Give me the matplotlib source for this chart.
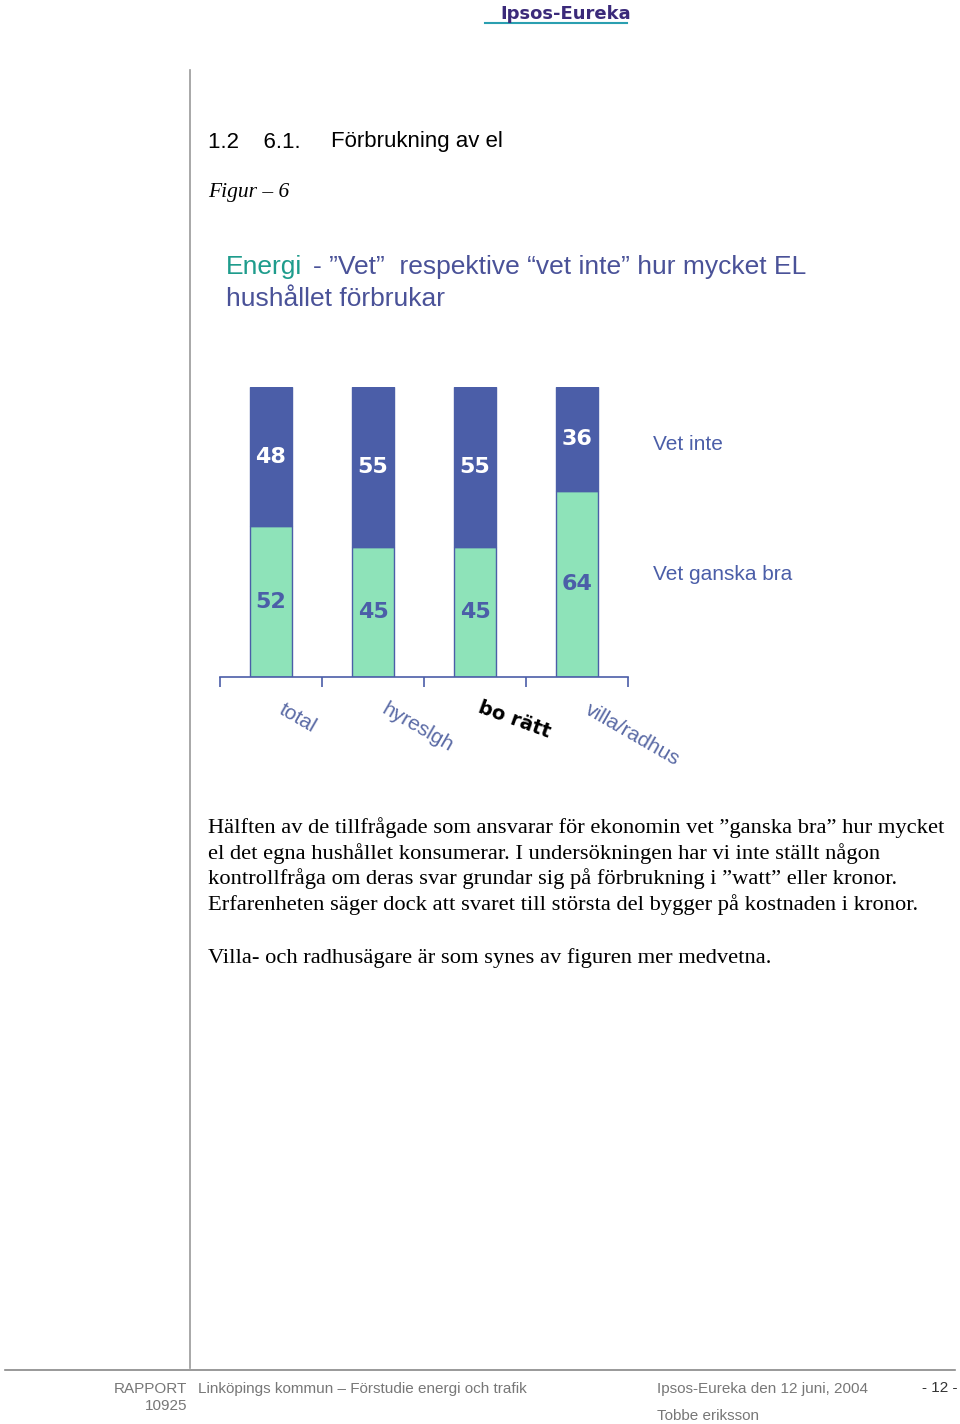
import matplotlib.pyplot as plt
import numpy as np

categories = ["total", "hyreslgh", "bo rätt", "villa/radhus"]
vet_ganska_bra = [52, 45, 45, 64]
vet_inte = [48, 55, 55, 36]
series_names = ["Vet ganska bra", "Vet inte"]

BLUE = "#4b5ea8"
GREEN = "#8ee3b9"
LABEL = "#5a6aa5"

fig = plt.figure(figsize=(9.6, 14.24), dpi=100)
W, H = 960, 1424


def fx(px):
    return px / W


def fy(py):
    return 1 - py / H


# page decoration
fig.add_artist(plt.Line2D([fx(190), fx(190)], [fy(70), fy(1368)], color="#999999", lw=1.2))
fig.add_artist(plt.Line2D([fx(5), fx(955)], [fy(1370), fy(1370)], color="#888888", lw=1.2))
fig.add_artist(plt.Line2D([fx(485), fx(627)], [fy(23), fy(23)], color="#2a9fb0", lw=1.5))
fig.text(fx(566), fy(14), "Ipsos-Eureka", color="#3b2a7a", fontsize=13, fontweight="bold",
         ha="center", va="center", family="DejaVu Sans")

fig.text(fx(208), fy(142), "1.2    6.1.", fontsize=16, family="Liberation Sans", va="center")
fig.text(fx(331), fy(142), "Förbrukning av el", fontsize=16, family="Liberation Sans",
         va="center")
fig.text(fx(208), fy(193), "Figur – 6", fontsize=15.5, family="Liberation Serif",
         style="italic", va="center")

fig.text(fx(226), fy(267), "Energi", fontsize=19, family="Liberation Sans",
         color="#1e9c8c", va="center")
fig.text(fx(313), fy(267), "- \u201dVet\u201d  respektive \u201cvet inte\u201d hur mycket EL",
         fontsize=19, family="Liberation Sans", color="#4a5298", va="center")
fig.text(fx(226), fy(299), "hushållet förbrukar", fontsize=19, family="Liberation Sans",
         color="#4a5298", va="center")

# chart
ax = fig.add_axes([fx(220), fy(677), fx(628) - fx(220), fy(387) - fy(677)])
x = np.arange(len(categories))
ax.bar(x, vet_ganska_bra, width=0.41, color=GREEN, edgecolor=BLUE, lw=1)
ax.bar(x, vet_inte, width=0.41, bottom=vet_ganska_bra, color=BLUE, edgecolor=BLUE, lw=1)
for i in range(len(categories)):
    ax.text(x[i], vet_ganska_bra[i] / 2, str(vet_ganska_bra[i]), ha="center", va="center",
            color=BLUE, fontsize=16, fontweight="bold", family="DejaVu Sans")
    ax.text(x[i], vet_ganska_bra[i] + vet_inte[i] / 2, str(vet_inte[i]), ha="center",
            va="center", color="white", fontsize=16, fontweight="bold", family="DejaVu Sans")
ax.set_xlim(-0.5, len(categories) - 0.5)
ax.set_ylim(0, 100)
for s in ["top", "right", "left"]:
    ax.spines[s].set_visible(False)
ax.spines["bottom"].set_color(BLUE)
ax.spines["bottom"].set_linewidth(1.2)
ax.set_yticks([])
ax.set_xticks(np.arange(-0.5, len(categories), 1.0))
ax.set_xticklabels([])
ax.tick_params(axis="x", direction="out", length=7, color=BLUE, width=1.2)

label_pos = [(298, 718), (418, 728), (514, 720), (632, 735)]
for cat, (px, py) in zip(categories, label_pos):
    if cat == "bo rätt":
        fig.text(fx(px), fy(py), cat, rotation=-20, color="black", fontsize=14,
                 fontweight="bold", ha="center", va="center", family="DejaVu Sans",
                 rotation_mode="anchor")
    else:
        fig.text(fx(px), fy(py), cat, rotation=-30, color=LABEL, fontsize=15,
                 ha="center", va="center", family="Liberation Sans", rotation_mode="anchor")

fig.text(fx(653), fy(445), series_names[1], color=BLUE, fontsize=15,
         family="Liberation Sans", va="center")
fig.text(fx(653), fy(575), series_names[0], color=BLUE, fontsize=15,
         family="Liberation Sans", va="center")

body = ("Hälften av de tillfrågade som ansvarar för ekonomin vet \u201dganska bra\u201d hur mycket\n"
        "el det egna hushållet konsumerar. I undersökningen har vi inte ställt någon\n"
        "kontrollfråga om deras svar grundar sig på förbrukning i \u201dwatt\u201d eller kronor.\n"
        "Erfarenheten säger dock att svaret till största del bygger på kostnaden i kronor.")
fig.text(fx(208), fy(817), body, fontsize=16.2, family="Liberation Serif", va="top",
         linespacing=1.3)
fig.text(fx(208), fy(958), "Villa- och radhusägare är som synes av figuren mer medvetna.",
         fontsize=16.2, family="Liberation Serif", va="center")

GREY = "#777777"
fig.text(fx(187), fy(1389), "RAPPORT", fontsize=11, color=GREY, ha="right", va="center",
         family="Liberation Sans")
fig.text(fx(187), fy(1406), "10925", fontsize=11, color=GREY, ha="right", va="center",
         family="Liberation Sans")
fig.text(fx(198), fy(1389), "Linköpings kommun – Förstudie energi och trafik", fontsize=11,
         color=GREY, va="center", family="Liberation Sans")
fig.text(fx(657), fy(1389), "Ipsos-Eureka den 12 juni, 2004", fontsize=11, color=GREY,
         va="center", family="Liberation Sans")
fig.text(fx(657), fy(1416), "Tobbe eriksson", fontsize=11, color=GREY, va="center",
         family="Liberation Sans")
fig.text(fx(957), fy(1388), "- 12 -", fontsize=11, color="#333333", ha="right", va="center",
         family="Liberation Sans")

fig.savefig("out.png", dpi=100)
